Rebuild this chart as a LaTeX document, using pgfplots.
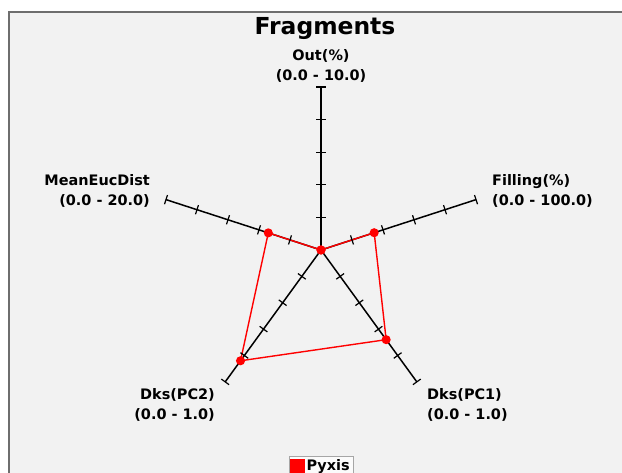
\documentclass[border=0pt]{standalone}
\usepackage{pgfplots}
\pgfplotsset{compat=1.18}
\usepackage{pgfplotstable}
\usepackage{fontspec}
\setmainfont{DejaVu Sans}

\definecolor{panelbg}{HTML}{F2F2F2}
\definecolor{framegray}{HTML}{6E6E6E}
\definecolor{pyxisred}{HTML}{FF0000}

% radar values: angle of the spoke, value, top of that spoke's range
\pgfplotstableread{
angle value max
90   0     10
18   34.3  100
-54  0.68  1
-126 0.84  1
162  6.8   20
90   0     10
}\pyxis

% fractions along each spoke where a tick sits
\pgfplotstableread{
tick r
0 0
1 0.2
2 0.4
3 0.6
4 0.8
5 1.0
}\spoke

\begin{document}
\begin{tikzpicture}
\clip (0,0) rectangle (622bp,473bp);
\fill[white] (0,0) rectangle (622bp,473bp);
\fill[panelbg] (9bp,0) rectangle (622bp,461bp);
\draw[framegray, line width=1.2bp] (9bp,0) -- (9bp,461bp) -- (622bp,461bp);
\begin{axis}[
    at={(0,0)}, anchor=south west,
    scale only axis,
    width=622bp, height=473bp,
    xmin=0, xmax=622, ymin=0, ymax=473,
    hide axis, clip=false,
    legend style={at={(axis cs:321,17)}, anchor=north,
        draw=gray!70, fill=white!97!gray, inner sep=1.5bp,
        font=\bfseries\fontsize{14.5}{16}\selectfont},
]
\pgfplotsinvokeforeach{90,18,-54,-126,162}{
    \addplot[black, line width=1.5bp, mark=|, mark size=4.8bp,
        mark indices={2,3,4,5,6}, mark options={rotate=#1, line width=1.2bp},
        forget plot]
        table[x expr={321+163*\thisrow{r}*cos(#1)},
              y expr={223+163*\thisrow{r}*sin(#1)}] {\spoke};
}
\addplot[pyxisred, line width=1.4bp, mark=*, mark size=3.8bp,
    mark options={fill=pyxisred, draw=pyxisred},
    legend image code/.code={\fill[pyxisred] (0bp,-6.5bp) rectangle (13bp,6.5bp);}]
    table[x expr={321+163*\thisrow{value}/\thisrow{max}*cos(\thisrow{angle})},
          y expr={223+163*\thisrow{value}/\thisrow{max}*sin(\thisrow{angle})}] {\pyxis};
\addlegendentry{Pyxis}

\node[font=\bfseries\fontsize{23.5}{28}\selectfont, anchor=base] at (axis cs:325,438) {Fragments};
\begin{scope}[every node/.style={inner sep=0pt, font=\bfseries\fontsize{14.5}{20}\selectfont}]
\node[align=center, anchor=center] at (axis cs:321,407) {Out(\%)\\(0.0 - 10.0)};
\node[align=right, anchor=east] at (axis cs:150,282) {MeanEucDist\\(0.0 - 20.0)};
\node[align=left, anchor=west] at (axis cs:492,282) {Filling(\%)\\(0.0 - 100.0)};
\node[align=right, anchor=east] at (axis cs:215,68) {Dks(PC2)\\(0.0 - 1.0)};
\node[align=left, anchor=west] at (axis cs:427,68) {Dks(PC1)\\(0.0 - 1.0)};
\end{scope}
\end{axis}
\end{tikzpicture}
\end{document}
